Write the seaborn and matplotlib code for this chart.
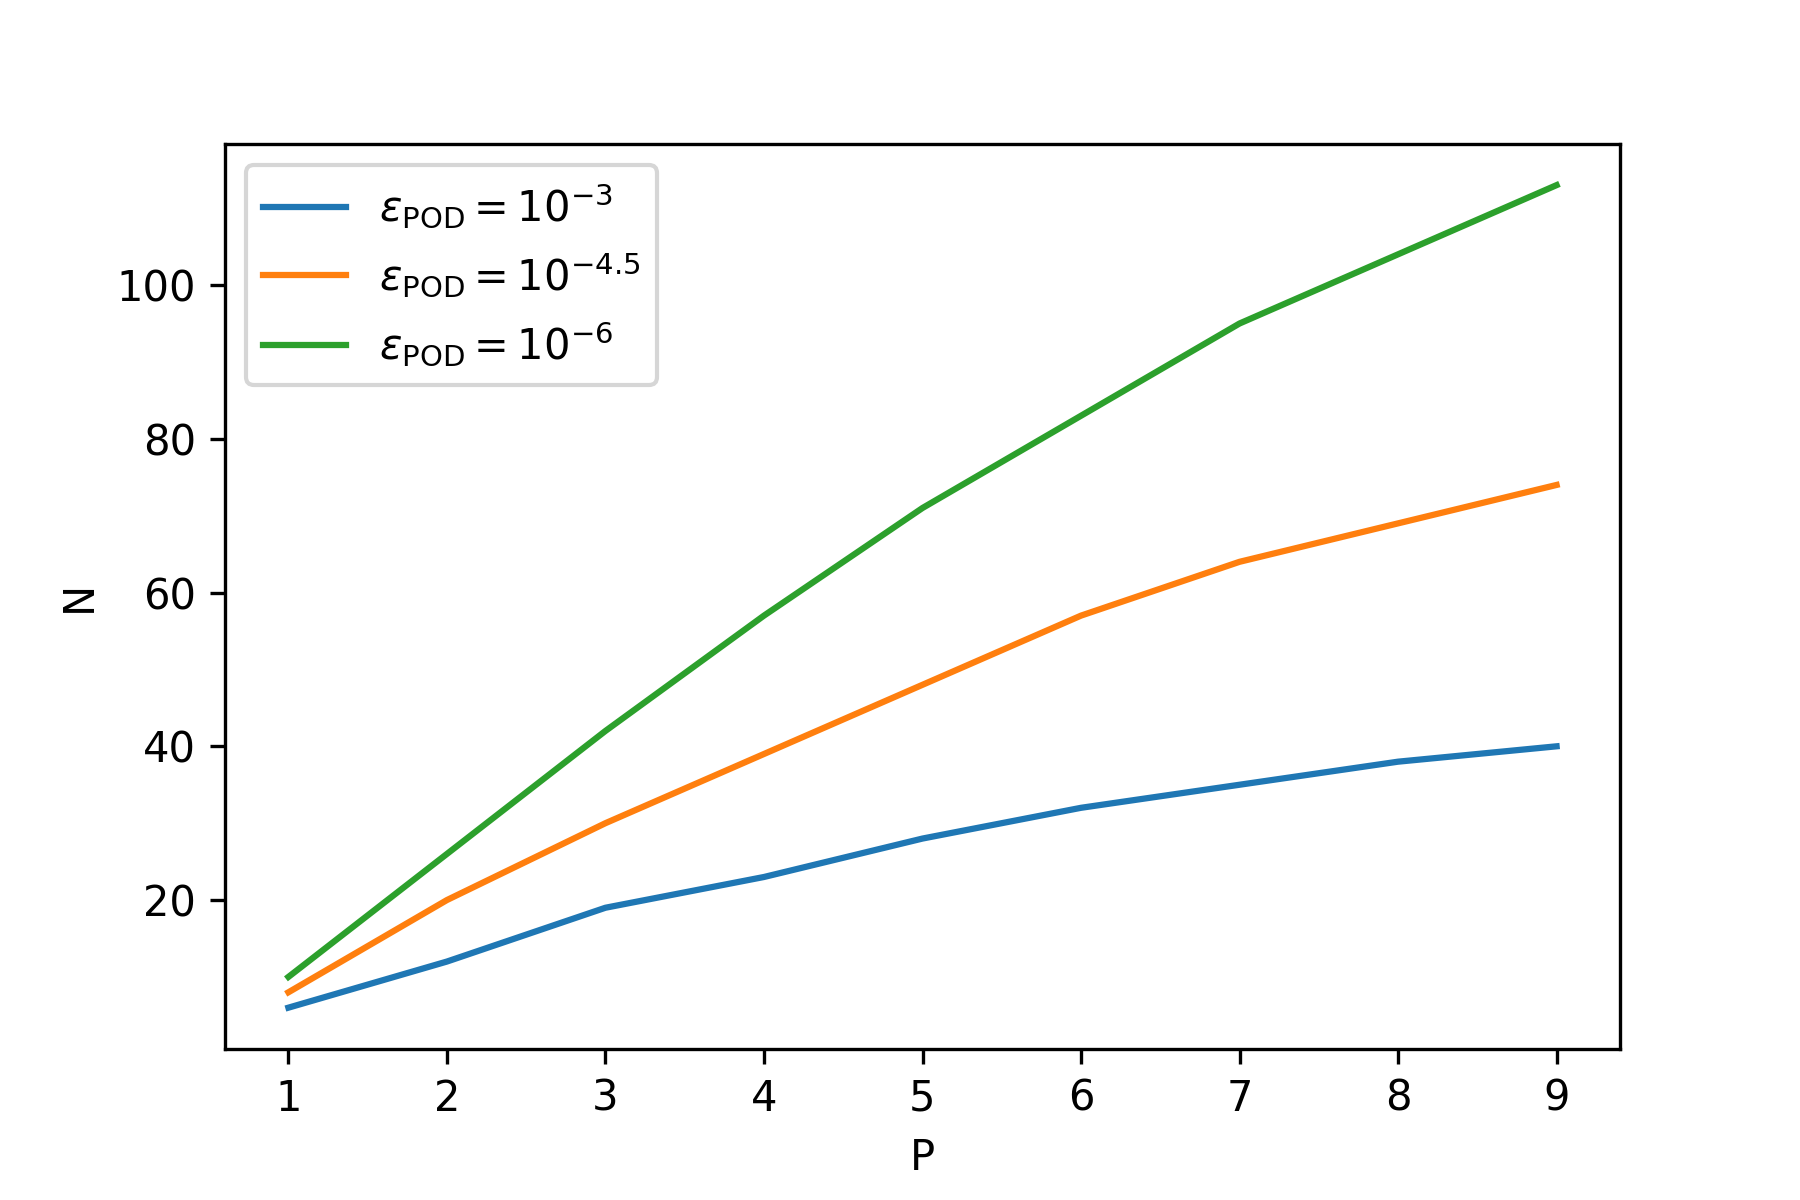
import pandas as pd
import numpy as np
import matplotlib
matplotlib.use('Agg')
import matplotlib.pyplot as plt
import seaborn as sns

# data
P = [1, 2, 3, 4, 5, 6, 7, 8, 9]
n_eps3 = [6, 12, 19, 23, 28, 32, 35, 38, 40]
n_eps45 = [8, 20, 30, 39, 48, 57, 64, 69, 74]
n_eps6 = [10, 26, 42, 57, 71, 83, 95, 104, 113]
labels = [r'$\varepsilon_{\mathrm{POD}} = 10^{-3}$',
          r'$\varepsilon_{\mathrm{POD}} = 10^{-4.5}$',
          r'$\varepsilon_{\mathrm{POD}} = 10^{-6}$']
colors = ['#1f77b4', '#ff7f0e', '#2ca02c']

df = pd.concat([
    pd.DataFrame({'P': P, 'N': vals, 'eps': lab})
    for vals, lab in zip([n_eps3, n_eps45, n_eps6], labels)
])

fig, ax = plt.subplots(figsize=(6, 4), dpi=300)
fig.subplots_adjust(left=0.125, right=0.9, top=0.88, bottom=0.126)
sns.lineplot(data=df, x='P', y='N', hue='eps', palette=colors, ax=ax,
             linewidth=1.5)
ax.set_xlabel('P')
ax.set_ylabel('N')
ax.set_xticks(P)
ax.legend(loc='upper left', title=None)

fig.savefig('out.png', dpi=300)
